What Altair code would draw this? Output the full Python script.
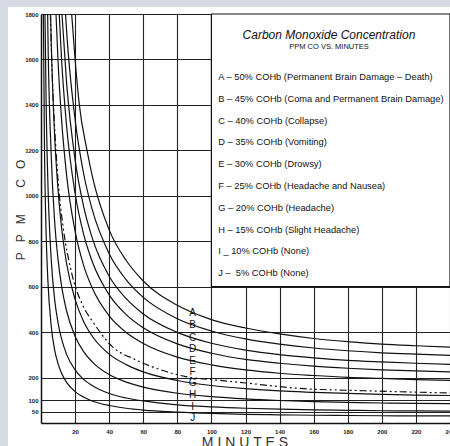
import altair as alt
import pandas as pd

# ---------------- data ----------------
A_T   = [18, 20, 22.5, 27, 30, 40, 50, 60, 80, 100, 120, 140, 160, 180, 200, 220, 240]
A_PPM = [1800, 1600, 1400, 1200, 1090, 850, 715, 625, 518, 455, 418, 392, 372, 358, 347, 340, 334]
B_T   = [14.4, 15, 20, 25, 30, 40, 50, 60, 80, 100, 120, 140, 160, 180, 200, 220, 240]
B_PPM = [1800, 1728, 1336, 1098, 941, 745, 630, 553, 459, 405, 370, 347, 330, 318, 309, 303, 298]
C_T   = [12.3, 15, 20, 25, 30, 40, 50, 60, 80, 100, 120, 140, 160, 180, 200, 220, 240]
C_PPM = [1800, 1499, 1159, 953, 816, 646, 547, 480, 399, 351, 321, 301, 287, 276, 269, 263, 258]
D_T   = [10.7, 12, 15, 20, 25, 30, 40, 50, 60, 80, 100, 120, 140, 160, 180, 200, 220, 240]
D_PPM = [1800, 1609, 1308, 1011, 831, 712, 564, 477, 419, 348, 307, 280, 263, 250, 241, 234, 229, 225]
E_T   = [8.8, 10, 12, 15, 20, 25, 30, 40, 50, 60, 80, 100, 120, 140, 160, 180, 200, 220, 240]
E_PPM = [1800, 1593, 1343, 1092, 844, 694, 595, 471, 398, 350, 290, 256, 234, 219, 209, 201, 196, 191, 188]
F_T   = [5.5, 7, 8, 10, 13, 18, 25, 30, 42, 55, 68, 85, 103, 120, 152, 190, 240]
F_PPM = [1800, 1450, 1300, 1069, 862, 660, 510, 450, 335, 280, 240, 204, 189, 176, 152, 142, 132]
G_T   = [5.6, 6, 8, 10, 12, 15, 20, 25, 30, 40, 50, 60, 80, 100, 120, 140, 160, 180, 200, 220, 240]
G_PPM = [1800, 1676, 1265, 1026, 865, 703, 544, 447, 383, 303, 257, 225, 187, 165, 151, 141, 135, 130, 126, 123, 121]
H_T   = [3.9, 4, 6, 8, 10, 12, 15, 20, 25, 30, 40, 50, 60, 80, 100, 120, 140, 160, 180, 200, 220, 240]
H_PPM = [1800, 1744, 1176, 888, 720, 607, 494, 382, 314, 269, 213, 180, 158, 131, 116, 106, 99, 94, 91, 88, 86, 85]
I_T   = [2.35, 3, 4, 6, 8, 10, 12, 15, 20, 25, 30, 40, 50, 60, 80, 100, 120, 140, 160, 180, 200, 220, 240]
I_PPM = [1800, 1411, 1068, 720, 544, 441, 372, 302, 234, 192, 165, 130, 110, 97, 80, 71, 65, 61, 58, 56, 54, 53, 52]
J_T   = [1.4, 2, 3, 4, 6, 8, 10, 12, 15, 20, 25, 30, 40, 50, 60, 80, 100, 120, 140, 160, 180, 200, 220, 240]
J_PPM = [1800, 1247, 835, 632, 426, 322, 261, 220, 179, 138, 114, 97, 77, 65, 57, 48, 42, 38, 36, 34, 33, 32, 31, 31]

CURVES = list("ABCDEFGHIJ")
DASHED_CURVE = "F"

LABEL_T = 89
LABEL_PPM = [484, 431, 374, 326, 273, 224, 176, 123, 70, 22]

X_TICKS = [20, 40, 60, 80, 100, 120, 140, 160, 180, 200, 220, 240]
Y_TICKS = [50, 100, 200, 400, 600, 800, 1000, 1200, 1400, 1600, 1800]

TITLE = "Carbon Monoxide Concentration"
SUBTITLE = "PPM CO VS. MINUTES"
LEGEND_LINES = [
    "A \u2013 50% COHb (Permanent Brain Damage \u2013 Death)",
    "B \u2013 45% COHb (Coma and Permanent Brain Damage)",
    "C \u2013 40% COHb (Collapse)",
    "D \u2013 35% COHb (Vomiting)",
    "E \u2013 30% COHb (Drowsy)",
    "F \u2013 25% COHb (Headache and Nausea)",
    "G \u2013 20% COHb (Headache)",
    "H \u2013 15% COHb (Slight Headache)",
    "I _ 10% COHb (None)",
    "J \u2013 \u00a05% COHb (None)",
]
LEGEND_T = 104
LEGEND_PPM = [1523, 1427, 1331, 1235, 1139, 1043, 947, 851, 755, 659]
TITLE_T = 169
TITLE_PPM = [1707, 1655]
BOX_X = [100, 240]
BOX_Y = [600, 1800]

NB = "\u00a0"
Y_TITLE = "P" + NB * 3 + "P" + NB * 3 + "M" + NB * 8 + "C" + NB * 3 + "O"
X_TITLE = NB.join("MINUTES")

# ---------------- build tables ----------------
series = {
    "A": (A_T, A_PPM), "B": (B_T, B_PPM), "C": (C_T, C_PPM), "D": (D_T, D_PPM),
    "E": (E_T, E_PPM), "F": (F_T, F_PPM), "G": (G_T, G_PPM), "H": (H_T, H_PPM),
    "I": (I_T, I_PPM), "J": (J_T, J_PPM),
}
rows = []
for name in CURVES:
    ts, ps = series[name]
    for i, (t, p) in enumerate(zip(ts, ps)):
        rows.append({"curve": name, "t": t, "ppm": p, "ord": i})
df = pd.DataFrame(rows)
solid_df = df[df.curve != DASHED_CURVE]
dash_df = df[df.curve == DASHED_CURVE]

labels_df = pd.DataFrame({"curve": CURVES, "t": [LABEL_T] * len(CURVES), "ppm": LABEL_PPM})
box_df = pd.DataFrame({"t": [BOX_X[0]], "t2": [BOX_X[1]], "ppm": [BOX_Y[0]], "ppm2": [BOX_Y[1]]})
legend_df = pd.DataFrame({"txt": LEGEND_LINES, "t": [LEGEND_T] * len(LEGEND_LINES), "ppm": LEGEND_PPM})
title_df = pd.DataFrame({"txt": [TITLE, SUBTITLE], "t": [TITLE_T, TITLE_T], "ppm": TITLE_PPM})

FONT = "Liberation Sans"
xs = alt.Scale(domain=[0, 240], nice=False, zero=False)
ys = alt.Scale(domain=[0, 1800], nice=False)

x_axis = alt.Axis(values=X_TICKS, tickCount=30, format="d", title=None, grid=True, ticks=False,
                  labelFontSize=6, labelColor="#222", labelFont=FONT, labelFontWeight="bold", labelPadding=5,
                  domainColor="#111", domainWidth=1.5, gridColor="#222", gridWidth=1.1,
                  labelFlush=False, labelOverlap=False)
y_axis = alt.Axis(values=Y_TICKS, tickCount=30, format="d", title=None, grid=True, ticks=False,
                  labelFontSize=6, labelColor="#222", labelFont=FONT, labelFontWeight="bold", labelPadding=3,
                  domainColor="#111", domainWidth=1.5, gridColor="#222", gridWidth=1.1,
                  labelFlush=False, labelOverlap=False)

X = alt.X("t:Q", scale=xs, axis=x_axis)
Y = alt.Y("ppm:Q", scale=ys, axis=y_axis)

base_lines = alt.Chart(solid_df).mark_line(color="#111", strokeWidth=1.2, interpolate="monotone", clip=True).encode(
    x=X, y=Y, detail="curve:N", order="ord:Q")
dash_line = alt.Chart(dash_df).mark_line(color="#111", strokeWidth=1.2, interpolate="monotone",
                                         strokeDash=[7, 3, 2, 3, 2, 3], clip=True).encode(
    x=X, y=Y, order="ord:Q")

box = alt.Chart(box_df).mark_rect(fill="white", stroke="#111", strokeWidth=1.2).encode(
    x=X, x2="t2:Q", y=Y, y2="ppm2:Q")

letters = alt.Chart(labels_df).mark_text(font=FONT, fontSize=10, color="#111", align="center",
                                         baseline="middle").encode(x=X, y=Y, text="curve:N")

title = alt.Chart(title_df.iloc[[0]]).mark_text(
    font=FONT, fontSize=12, fontStyle="italic", color="#111", align="center", baseline="middle").encode(
    x=X, y=Y, text="txt:N")
subtitle = alt.Chart(title_df.iloc[[1]]).mark_text(
    font=FONT, fontSize=7.5, color="#111", align="center", baseline="middle").encode(
    x=X, y=Y, text="txt:N")

legend_text = alt.Chart(legend_df).mark_text(font=FONT, fontSize=9.3, color="#111", align="left",
                                             baseline="middle").encode(x=X, y=Y, text="txt:N")

ytitle = alt.Chart(pd.DataFrame({"txt": [Y_TITLE]})).mark_text(
    font=FONT, fontSize=12, color="#333", angle=270, align="center", baseline="middle").encode(
    x=alt.value(-20), y=alt.value(196), text="txt:N")
xtitle = alt.Chart(pd.DataFrame({"txt": [X_TITLE]})).mark_text(
    font=FONT, fontSize=14, color="#333", align="center", baseline="alphabetic").encode(
    x=alt.value(204), y=alt.value(433), text="txt:N")

GRAY = "#d6dbe3"
strip_left = alt.Chart(pd.DataFrame({"k": [0]})).mark_rect(color=GRAY).encode(
    x=alt.value(-41), x2=alt.value(-33), y=alt.value(-14), y2=alt.value(432))
strip_top = alt.Chart(pd.DataFrame({"k": [0]})).mark_rect(color=GRAY).encode(
    x=alt.value(-41), x2=alt.value(409), y=alt.value(-14), y2=alt.value(-7))

chart = alt.layer(
    base_lines, box, dash_line, letters, title, subtitle, legend_text, ytitle, xtitle, strip_left, strip_top
).properties(
    width=409, height=409,
    autosize=alt.AutoSizeParams(type="none"),
    padding={"left": 41, "top": 14, "right": 0, "bottom": 23},
    background="white",
).configure_view(strokeWidth=0)

chart.save("out.html", embed_options={"renderer": "svg", "actions": False})
